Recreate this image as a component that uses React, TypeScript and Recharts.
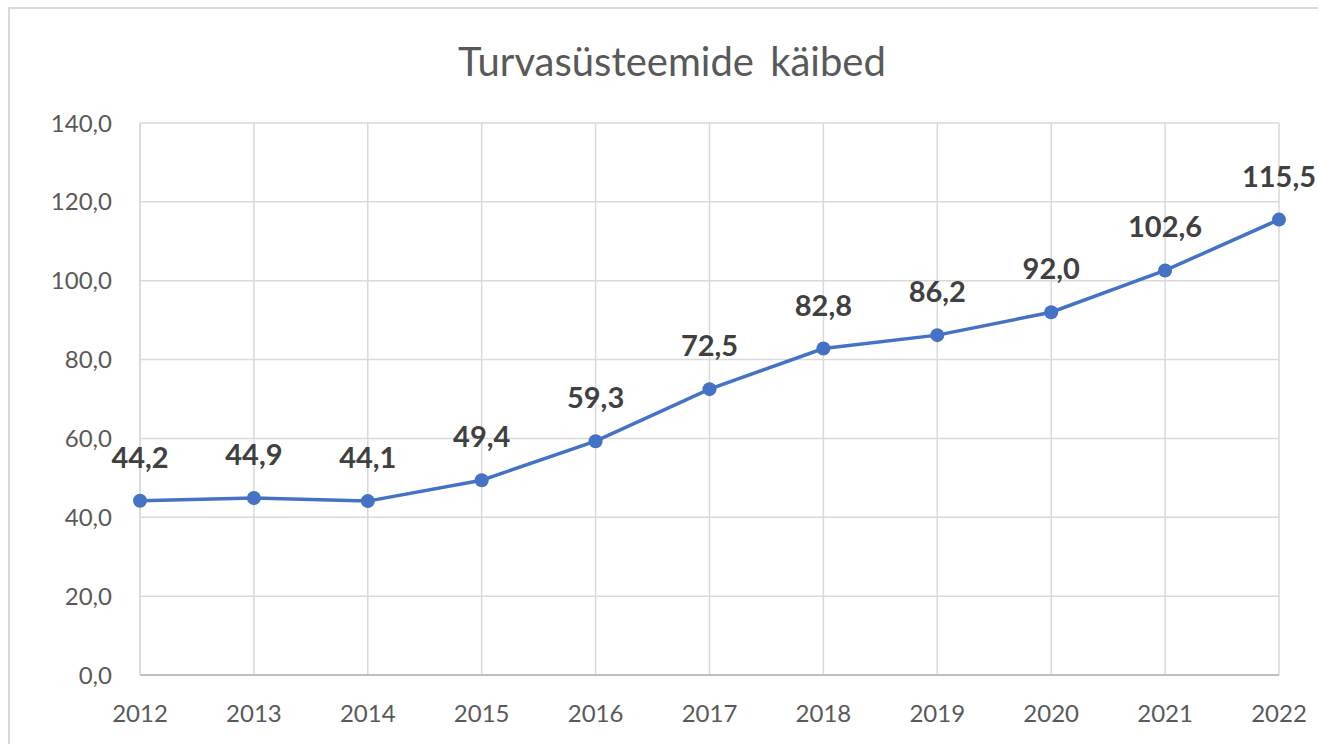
import { LineChart, Line, XAxis, YAxis, CartesianGrid, LabelList } from 'recharts';

const years = ['2012', '2013', '2014', '2015', '2016', '2017', '2018', '2019', '2020', '2021', '2022'];
const turnover = [44.2, 44.9, 44.1, 49.4, 59.3, 72.5, 82.8, 86.2, 92.0, 102.6, 115.5];
const yTicks = [0, 20, 40, 60, 80, 100, 120, 140];

const data = years.map((year, i) => ({ year, value: turnover[i] }));

const fmt = (v: number) => Number(v).toFixed(1).replace('.', ',');

const FONT = 'Lato, "Open Sans", sans-serif';

export default function App() {
  return (
    <div style={{ position: 'fixed', top: 0, left: 0, width: 1318, height: 744, overflow: 'hidden', background: '#fff' }}>
      <div
        style={{
          position: 'absolute', left: 8, top: 7, width: 1330, height: 760,
          border: '2px solid #d9d9d9', boxSizing: 'border-box',
        }}
      />
      <div
        style={{
          position: 'absolute', left: 0, top: 37, width: 1344, textAlign: 'center',
          fontFamily: FONT, fontSize: 40, color: '#595959', lineHeight: '48px', wordSpacing: 6,
        }}
      >
        Turvasüsteemide käibed
      </div>
      <LineChart
        width={1318}
        height={744}
        data={data}
        margin={{ top: 123, right: 39, bottom: 39, left: 0 }}
        style={{ position: 'absolute', left: 0, top: 0 }}
      >
        <CartesianGrid stroke="#d9d9d9" strokeWidth={1.5} />
        <XAxis
          dataKey="year"
          height={30}
          tickLine={false}
          tickSize={0}
          tickMargin={30}
          axisLine={{ stroke: '#bfbfbf', strokeWidth: 2 }}
          tick={{ fill: '#595959', fontSize: 24, fontFamily: FONT }}
          interval={0}
        />
        <YAxis
          width={140}
          domain={[0, 140]}
          ticks={yTicks}
          tickFormatter={fmt}
          tickLine={false}
          tickSize={0}
          tickMargin={28}
          axisLine={{ stroke: '#d9d9d9', strokeWidth: 1.5 }}
          tick={{ fill: '#595959', fontSize: 24, fontFamily: FONT }}
        />
        <Line
          dataKey="value"
          stroke="#4472C4"
          strokeWidth={3.5}
          dot={{ r: 7, fill: '#4472C4', stroke: 'none' }}
          isAnimationActive={false}
        >
          <LabelList
            dataKey="value"
            position="top"
            offset={33}
            formatter={(v: any) => fmt(v)}
            style={{ fill: '#404040', fontSize: 29, fontWeight: 700, fontFamily: FONT }}
          />
        </Line>
      </LineChart>
    </div>
  );
}
